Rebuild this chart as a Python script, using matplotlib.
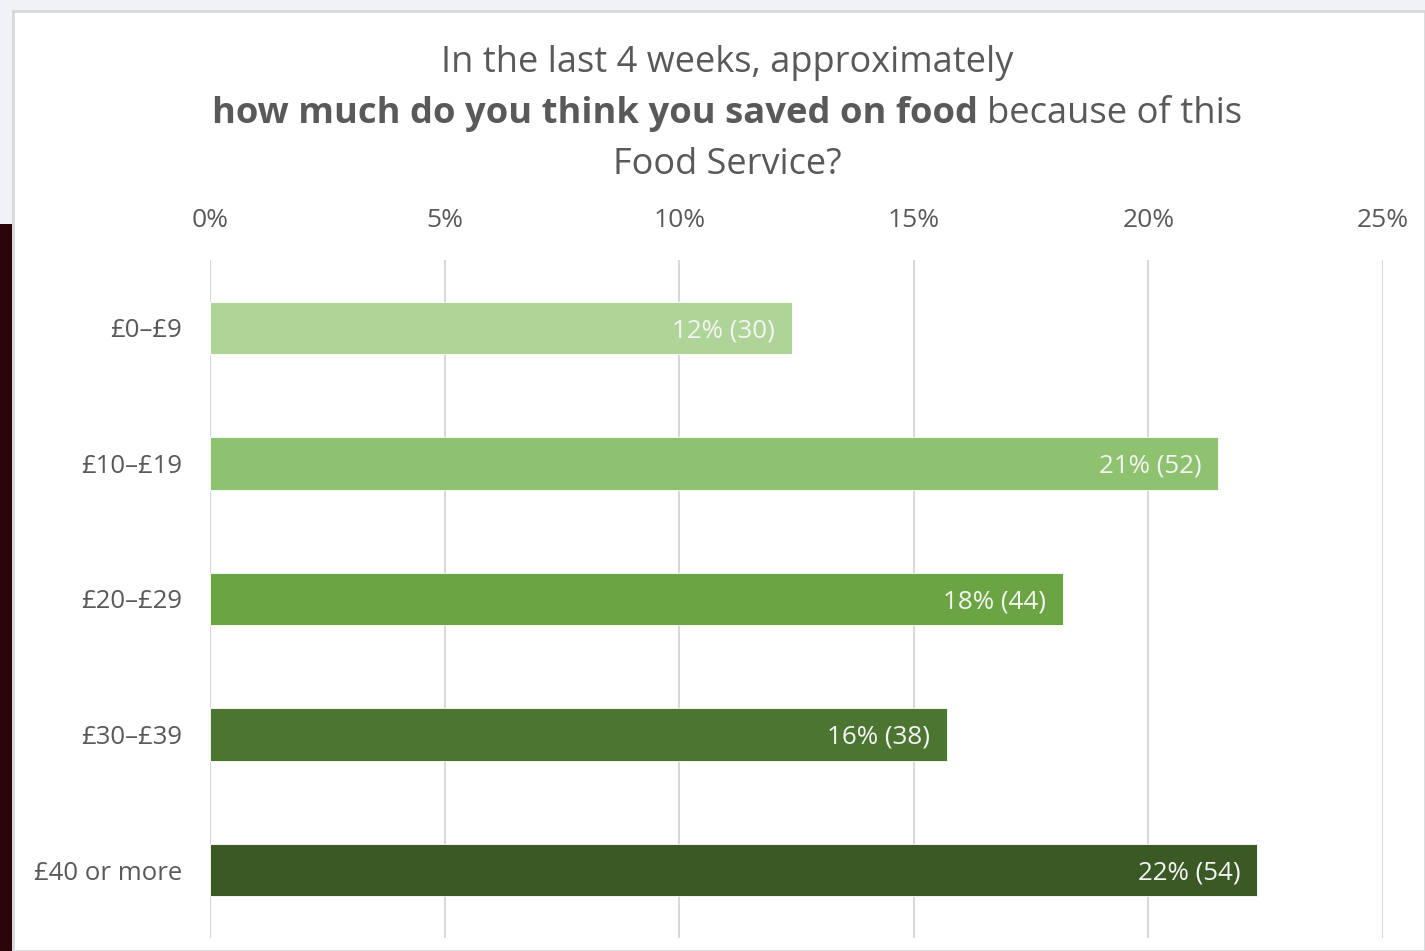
import matplotlib
matplotlib.use("Agg")
import matplotlib.pyplot as plt
from matplotlib.patches import Rectangle

plt.rcParams['font.family'] = ['Open Sans', 'DejaVu Sans']

# survey answers, n = 242 respondents
categories = ['£0–£9', '£10–£19', '£20–£29', '£30–£39', '£40 or more']
counts = [30, 52, 44, 38, 54]
total = 242
bar_colors = ['#aed597', '#8fc26e', '#6aa443', '#4c7531', '#3b5924']
tick_vals = [0, 5, 10, 15, 20, 25]

pct = [c / total * 100 for c in counts]

fig = plt.figure(figsize=(14.25, 9.51), dpi=100, facecolor='#f0f2f5')

# white card + dark strip on the left
fig.patches.append(Rectangle((13/1425, 0), 1 - 13/1425, 1 - 11/951, transform=fig.transFigure,
                             facecolor='white', edgecolor='#d6d8db', linewidth=2, zorder=-2))
fig.patches.append(Rectangle((0, 0), 12/1425, 1 - 224/951, transform=fig.transFigure,
                             facecolor='#2a050a', edgecolor='none', zorder=-2))

ax = fig.add_axes([210/1425, 1 - 938/951, 1173/1425, 678/951])
ax.set_zorder(2)
ax.set_facecolor('none')

y = list(range(len(categories)))
bars = ax.barh(y, pct, height=0.385, color=bar_colors, edgecolor='white', linewidth=0.6, zorder=3)
for b, p, c in zip(bars, pct, counts):
    ax.annotate(f'{p:.0f}% ({c})', (b.get_width(), b.get_y() + b.get_height() / 2),
                xytext=(-12, -2), textcoords='offset points', ha='right', va='center',
                color='#f4f4f4', fontsize=18.7, zorder=4)

ax.set_xlim(0, 25)
ax.set_ylim(len(categories) - 0.5, -0.5)
ax.set_xticks(tick_vals)
ax.set_xticklabels([f'{v}%' for v in tick_vals])
ax.set_yticks(y)
ax.set_yticklabels(categories)
ax.xaxis.tick_top()
ax.tick_params(axis='x', length=0, pad=19.5, labelsize=19, labelcolor='#595959')
ax.tick_params(axis='y', length=0, pad=20, labelsize=18.5, labelcolor='#595959')
ax.grid(axis='x', color='#d9d9d9', linewidth=1.5, zorder=0)
for s in ax.spines.values():
    s.set_visible(False)

# three-line title, middle line partly bold
title_color = '#595959'
cx = 727 / 1425
fig.text(cx, 1 - 63/951, 'In the last 4 weeks, approximately', ha='center', va='center',
         fontsize=26, color=title_color)
fig.text(cx, 1 - 165/951, 'Food Service?', ha='center', va='center',
         fontsize=26, color=title_color)

renderer = fig.canvas.get_renderer()
bold_part = fig.text(0, 1 - 114/951, 'how much do you think you saved on food ', ha='left', va='center',
                     fontsize=26.2, fontweight='bold', color=title_color)
rest_part = fig.text(0, 1 - 114/951, 'because of this', ha='left', va='center',
                     fontsize=26.2, color=title_color)
w_bold = bold_part.get_window_extent(renderer).width / fig.bbox.width
w_rest = rest_part.get_window_extent(renderer).width / fig.bbox.width
x0 = cx - (w_bold + w_rest) / 2
bold_part.set_x(x0)
rest_part.set_x(x0 + w_bold)

fig.savefig('out.png', dpi=100, facecolor=fig.get_facecolor())
